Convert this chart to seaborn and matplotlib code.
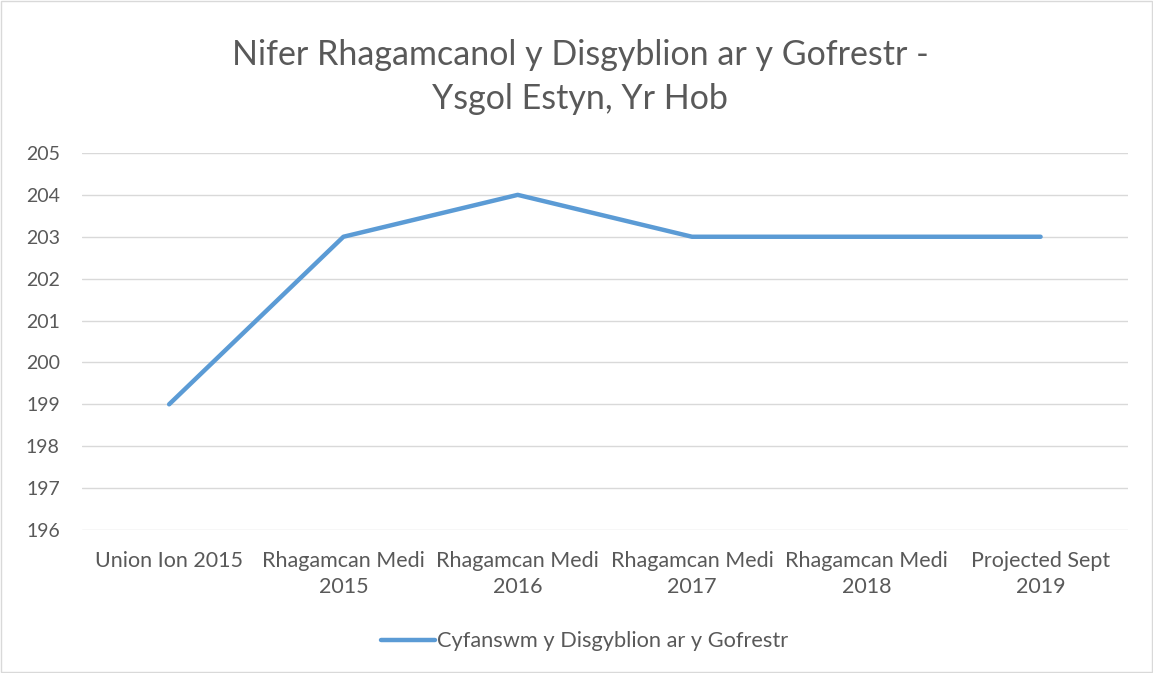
import numpy as np
import pandas as pd
import seaborn as sns
import matplotlib.pyplot as plt
from matplotlib.patches import Rectangle

categories = ['Union Ion 2015', 'Rhagamcan Medi\n2015', 'Rhagamcan Medi\n2016',
              'Rhagamcan Medi\n2017', 'Rhagamcan Medi\n2018', 'Projected Sept\n2019']
pupils = [199, 203, 204, 203, 203, 203]
series_name = 'Cyfanswm y Disgyblion ar y Gofrestr'
title = 'Nifer Rhagamcanol y Disgyblion ar y Gofrestr -\nYsgol Estyn, Yr Hob'
y_ticks = list(range(196, 206))

sns.set_theme(style='white')
plt.rcParams['font.family'] = ['Lato', 'DejaVu Sans']

df = pd.DataFrame({'pos': np.arange(len(categories)), 'value': pupils,
                   'series': series_name})

fig = plt.figure(figsize=(11.53, 6.73), dpi=100)
ax = fig.add_axes([0.0711, 0.2125, 0.907, 0.5602])

line_col = '#5B9BD5'
text_col = '#595959'

sns.lineplot(data=df, x='pos', y='value', hue='series', palette=[line_col],
             linewidth=3.2, ax=ax, legend=False)

ax.set_xlim(-0.5, len(categories) - 0.5)
ax.set_ylim(196, 205)
ax.set_yticks(y_ticks)
ax.set_xticks(df['pos'])
ax.set_xticklabels(categories, fontsize=15.5, color=text_col, linespacing=1.4)
ax.tick_params(axis='y', labelsize=14, labelcolor=text_col, length=0, pad=16)
ax.tick_params(axis='x', length=0, pad=15)
ax.yaxis.grid(True, color='#D9D9D9', linewidth=1)
ax.set_xlabel('')
ax.set_ylabel('')
for s in ax.spines.values():
    s.set_visible(False)

fig.text(0.503, 0.886, title, ha='center', va='center', fontsize=24.5,
         color=text_col, linespacing=1.45, fontweight='normal')

# legend at the bottom
handle = plt.Line2D([], [], color=line_col, linewidth=3.2)
fig.legend([handle], [series_name], loc='center', bbox_to_anchor=(0.507, 0.047),
           frameon=False, fontsize=15.7, labelcolor=text_col, handlelength=2.5,
           handletextpad=0.1)

# chart-area border
fig.patches.append(Rectangle((0.001, 0.001), 0.998, 0.998, transform=fig.transFigure,
                             fill=False, edgecolor='#D9D9D9', linewidth=1))

fig.savefig('out.png', dpi=100)
